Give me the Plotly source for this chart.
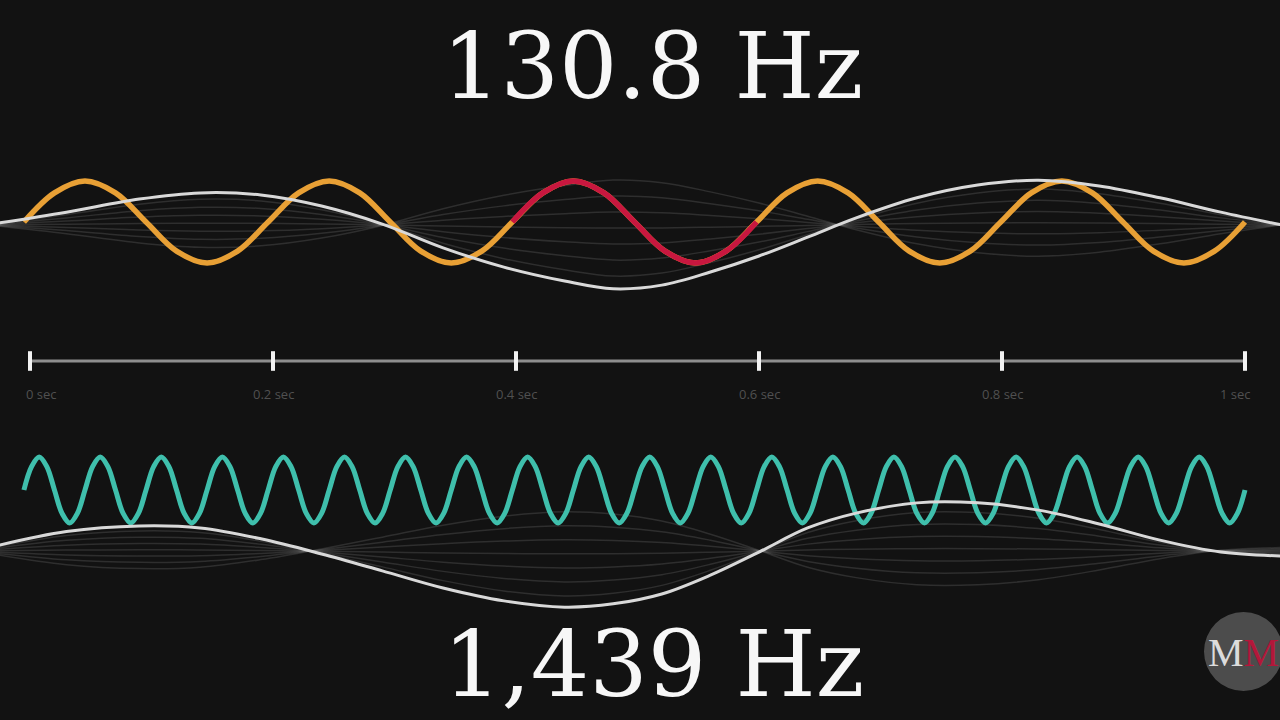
import numpy as np
import plotly.graph_objects as go

# ---------------- data ----------------
top_title = "130.8 Hz"
bottom_title = "1,439 Hz"

tick_values = [0, 0.2, 0.4, 0.6, 0.8, 1.0]
tick_labels = ["0 sec", "0.2 sec", "0.4 sec", "0.6 sec", "0.8 sec", "1 sec"]

# one cycle of each carrier wave, sampled every eighth of a period
cycle_shape = [0, 0.71, 1, 0.71, 0, -0.71, -1, -0.71]
wave_start, wave_end = -0.005, 1.0
low_cycles = 5          # 130.8 Hz wave (drawn slowed down)
high_cycles = 20        # 1,439 Hz wave (drawn slowed down)
highlight_cycle = 2     # the cycle drawn in red

# slow white "string" curves (time in sec, displacement in wave units)
top_white_t = [-0.025, 0.03, 0.09, 0.14, 0.19, 0.24, 0.29, 0.34, 0.39, 0.44, 0.48, 0.52,
               0.56, 0.60, 0.64, 0.68, 0.73, 0.78, 0.83, 0.88, 0.93, 0.98, 1.03]
top_white_y = [-0.02, 0.24, 0.56, 0.71, 0.66, 0.39, -0.05, -0.63, -1.10, -1.44, -1.63, -1.54,
               -1.22, -0.83, -0.37, 0.10, 0.59, 0.90, 1.02, 0.88, 0.59, 0.24, -0.07]
top_rest = -0.07

bottom_white_t = [-0.025, 0.03, 0.09, 0.14, 0.19, 0.24, 0.29, 0.34, 0.39, 0.44, 0.48, 0.52,
                  0.56, 0.60, 0.64, 0.68, 0.73, 0.78, 0.83, 0.88, 0.93, 0.98, 1.03]
bottom_white_y = [-1.67, -1.26, -1.09, -1.15, -1.48, -1.94, -2.45, -2.97, -3.36, -3.55, -3.45,
                  -3.15, -2.58, -1.88, -1.15, -0.70, -0.39, -0.39, -0.61, -1.03, -1.52, -1.88,
                  -2.00]
bottom_rest = -1.85

ghost_factors = [0.8, 0.55, 0.3, 0.05, -0.2, -0.45, -0.7]

# ---------------- styles ----------------
BG = "#121212"
ORANGE = "#E8A035"
RED = "#C8173F"
TEAL = "#3FBFAC"
WHITE = "#d9d9d9"
GHOST = "rgba(210,210,210,0.15)"
TITLE_FONT = "DejaVu Serif"

fig = go.Figure()

# ghost lines + white curves
for tt, yy, rest, ax in [(top_white_t, top_white_y, top_rest, "y"),
                         (bottom_white_t, bottom_white_y, bottom_rest, "y2")]:
    yy = np.array(yy)
    for f in ghost_factors:
        fig.add_trace(go.Scatter(x=tt, y=rest + f * (yy - rest), yaxis=ax, mode="lines",
                                 line=dict(color=GHOST, width=1.5, shape="spline"),
                                 hoverinfo="skip", showlegend=False))

# low wave (orange with one red cycle)
low_y = cycle_shape * low_cycles + [0]
low_t = np.linspace(wave_start, wave_end, len(low_y))
fig.add_trace(go.Scatter(x=low_t, y=low_y, yaxis="y", mode="lines",
                         line=dict(color=ORANGE, width=5.5, shape="spline"),
                         hoverinfo="skip", showlegend=False))
n = len(cycle_shape)
i0, i1 = highlight_cycle * n, (highlight_cycle + 1) * n + 1
fig.add_trace(go.Scatter(x=low_t[i0:i1], y=low_y[i0:i1], yaxis="y", mode="lines",
                         line=dict(color=RED, width=5.5, shape="spline"),
                         hoverinfo="skip", showlegend=False))

# high wave (teal)
high_y = cycle_shape * high_cycles + [0]
high_t = np.linspace(wave_start, wave_end, len(high_y))
fig.add_trace(go.Scatter(x=high_t, y=high_y, yaxis="y2", mode="lines",
                         line=dict(color=TEAL, width=5, shape="spline"),
                         hoverinfo="skip", showlegend=False))

# white string curves on top
fig.add_trace(go.Scatter(x=top_white_t, y=top_white_y, yaxis="y", mode="lines",
                         line=dict(color=WHITE, width=3, shape="spline"),
                         hoverinfo="skip", showlegend=False))
fig.add_trace(go.Scatter(x=bottom_white_t, y=bottom_white_y, yaxis="y2", mode="lines",
                         line=dict(color=WHITE, width=3, shape="spline"),
                         hoverinfo="skip", showlegend=False))

# timeline
fig.add_trace(go.Scatter(x=[tick_values[0], tick_values[-1]], y=[0, 0], yaxis="y3",
                         mode="lines", line=dict(color="#8e8e8e", width=3),
                         hoverinfo="skip", showlegend=False))
fig.add_trace(go.Scatter(x=tick_values, y=[0] * len(tick_values), yaxis="y3",
                         mode="markers",
                         marker=dict(symbol="line-ns", size=14,
                                     line=dict(width=4, color="#f2f2f2")),
                         hoverinfo="skip", showlegend=False))

annotations = []
for i, (v, lab) in enumerate(zip(tick_values, tick_labels)):
    if i == 0:
        anchor, shift = "left", -6
    elif i == len(tick_values) - 1:
        anchor, shift = "right", 8
    else:
        anchor, shift = "center", 0
    annotations.append(dict(x=v, xref="x", y=1 - 394 / 720, yref="paper", text=lab,
                            showarrow=False, xanchor=anchor, xshift=shift, yanchor="middle",
                            font=dict(family="Open Sans", size=13, color="#505050")))

annotations.append(dict(x=652 / 1280, y=1 - 66 / 720, xref="paper", yref="paper",
                        text=top_title, showarrow=False, xanchor="center", yanchor="middle",
                        font=dict(family=TITLE_FONT, size=92, color="#f7f7f7")))
annotations.append(dict(x=653 / 1280, y=0, xref="paper", yref="paper",
                        text=bottom_title, showarrow=False, xanchor="center", yanchor="bottom",
                        font=dict(family=TITLE_FONT, size=92, color="#f7f7f7")))

# logo
annotations.append(dict(x=1243 / 1280, y=1 - 652 / 720, xref="paper", yref="paper",
                        text="<span style='color:#dcdcdc'>M</span><span style='color:#b3173a'>M</span>",
                        showarrow=False, xanchor="center", yanchor="middle",
                        font=dict(family="Liberation Serif", size=40, color="#dcdcdc")))

shapes = [dict(type="circle", xref="paper", yref="paper",
               x0=1204 / 1280, x1=1283 / 1280, y0=1 - 691 / 720, y1=1 - 612 / 720,
               fillcolor="rgba(115,115,115,0.6)", line=dict(width=0), layer="below")]

fig.update_layout(
    width=1280, height=720,
    margin=dict(l=0, r=0, t=0, b=0),
    paper_bgcolor=BG, plot_bgcolor=BG,
    showlegend=False,
    xaxis=dict(range=[-30 / 1215, 1250 / 1215], visible=False, fixedrange=True),
    yaxis=dict(domain=[1 - 310 / 720, 1 - 150 / 720], range=[-88 / 41, 72 / 41],
               visible=False, fixedrange=True),
    yaxis2=dict(domain=[1 - 630 / 720, 1 - 430 / 720], range=[-140 / 33, 60 / 33],
                visible=False, fixedrange=True),
    yaxis3=dict(domain=[1 - 371 / 720, 1 - 351 / 720], range=[-1, 1],
                visible=False, fixedrange=True),
    annotations=annotations,
    shapes=shapes,
    hovermode=False,
)

fig.write_html(
    "out.html",
    config={"displayModeBar": False},
    post_script=("document.body.style.margin='0';"
                 "document.body.style.background='#121212';"
                 "document.body.style.overflow='hidden';"),
)
